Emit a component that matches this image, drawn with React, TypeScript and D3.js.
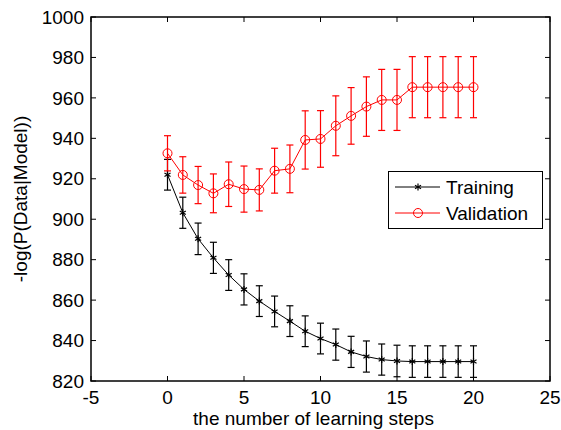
import React, { useRef, useEffect } from "react";
import * as d3 from "d3";

// learning steps 0..20
const steps = [0, 1, 2, 3, 4, 5, 6, 7, 8, 9, 10, 11, 12, 13, 14, 15, 16, 17, 18, 19, 20];
const trainMean = [922, 903.2, 890.3, 880.9, 872.4, 865.3, 859.5, 854.4, 849.6, 844.6, 841, 838, 834.4, 832.1, 830.6, 829.9, 829.6, 829.6, 829.6, 829.6, 829.6];
const trainErr = [7.6, 7.7, 7.8, 7.7, 7.6, 7.7, 7.6, 7.6, 7.6, 7.6, 7.6, 7.7, 7.7, 7.7, 7.7, 7.8, 7.8, 7.8, 7.8, 7.8, 7.8];
const validMean = [932.6, 921.9, 916.9, 912.8, 917.3, 914.9, 914.5, 924, 924.9, 939.2, 939.7, 946.2, 951.1, 955.7, 959, 959, 965.3, 965.3, 965.3, 965.3, 965.3];
const validErr = [8.7, 9, 9.2, 9.6, 11, 11.4, 10.4, 11.1, 11.8, 14.4, 14, 14.8, 14, 14.7, 15.1, 15.1, 15.1, 15.1, 15.1, 15.1, 15.1];
const xTicks = [-5, 0, 5, 10, 15, 20, 25];
const yTicks = [820, 840, 860, 880, 900, 920, 940, 960, 980, 1000];

const W = 561;
const H = 430;
const margin = { left: 91, right: 11, top: 17, bottom: 49 };
const font = "Liberation Sans, Arial, sans-serif";
const fs = 19;

function App() {
  const svgRef = useRef<SVGSVGElement>(null);

  useEffect(() => {
    const svg = d3.select(svgRef.current);
    svg.selectAll("*").remove();

    const x = d3.scaleLinear().domain([-5, 25]).range([margin.left, W - margin.right]);
    const y = d3.scaleLinear().domain([820, 1000]).range([H - margin.bottom, margin.top]);
    const x0 = x.range()[0], x1 = x.range()[1];
    const y0 = y.range()[0], y1 = y.range()[1];

    // axes (ticks inward, box)
    const tick = 5;
    const g = svg.append("g").attr("font-family", font).attr("font-size", fs);

    g.append("rect")
      .attr("x", x0).attr("y", y1).attr("width", x1 - x0).attr("height", y0 - y1)
      .attr("fill", "none").attr("stroke", "black").attr("stroke-width", 1.5);

    xTicks.forEach((t) => {
      g.append("line").attr("x1", x(t)).attr("x2", x(t)).attr("y1", y0).attr("y2", y0 - tick).attr("stroke", "black");
      g.append("line").attr("x1", x(t)).attr("x2", x(t)).attr("y1", y1).attr("y2", y1 + tick).attr("stroke", "black");
      g.append("text").attr("x", x(t)).attr("y", y0 + 23).attr("text-anchor", "middle").text(t);
    });
    yTicks.forEach((t) => {
      g.append("line").attr("x1", x0).attr("x2", x0 + tick).attr("y1", y(t)).attr("y2", y(t)).attr("stroke", "black");
      g.append("line").attr("x1", x1).attr("x2", x1 - tick).attr("y1", y(t)).attr("y2", y(t)).attr("stroke", "black");
      g.append("text").attr("x", x0 - 7).attr("y", y(t)).attr("dy", "0.35em").attr("text-anchor", "end").text(t);
    });

    g.append("text")
      .attr("x", (x0 + x1) / 2 - 7).attr("y", H - 5)
      .attr("text-anchor", "middle").text("the number of learning steps");
    g.append("text")
      .attr("transform", `translate(27, ${(y0 + y1) / 2}) rotate(-90)`)
      .attr("text-anchor", "middle").text("-log(P(Data|Model))");

    const series = [
      { mean: trainMean, err: trainErr, color: "black", marker: "star" },
      { mean: validMean, err: validErr, color: "#ff0000", marker: "circle" },
    ];

    const cap = 3.5;
    series.forEach((s) => {
      const sg = svg.append("g");
      // error bars
      steps.forEach((st, i) => {
        const xp = x(st);
        const top = y(s.mean[i] + s.err[i]);
        const bot = y(s.mean[i] - s.err[i]);
        sg.append("line").attr("x1", xp).attr("x2", xp).attr("y1", top).attr("y2", bot).attr("stroke", s.color).attr("stroke-width", 1.2);
        sg.append("line").attr("x1", xp - cap).attr("x2", xp + cap).attr("y1", top).attr("y2", top).attr("stroke", s.color).attr("stroke-width", 1.2);
        sg.append("line").attr("x1", xp - cap).attr("x2", xp + cap).attr("y1", bot).attr("y2", bot).attr("stroke", s.color).attr("stroke-width", 1.2);
      });
      const ln = d3.line<number>().x((_, i) => x(steps[i])).y((d) => y(d));
      sg.append("path").attr("d", ln(s.mean)).attr("fill", "none").attr("stroke", s.color).attr("stroke-width", 1);
      steps.forEach((st, i) => {
        drawMarker(sg, s.marker, x(st), y(s.mean[i]), s.color);
      });
    });

    // legend
    const lg = svg.append("g").attr("font-family", font).attr("font-size", fs);
    lg.append("rect").attr("x", 388.5).attr("y", 171.5).attr("width", 154).attr("height", 57)
      .attr("fill", "white").attr("stroke", "black").attr("stroke-width", 1);
    const entries = [
      { label: "Training", color: "black", marker: "star", cy: 187 },
      { label: "Validation", color: "#ff0000", marker: "circle", cy: 213 },
    ];
    entries.forEach((e) => {
      lg.append("line").attr("x1", 395).attr("x2", 440).attr("y1", e.cy).attr("y2", e.cy).attr("stroke", e.color);
      drawMarker(lg, e.marker, 418, e.cy, e.color);
      lg.append("text").attr("x", 446).attr("y", e.cy).attr("dy", "0.35em").text(e.label);
    });
  }, []);

  return (
    <svg ref={svgRef} width={W} height={H} style={{ position: "absolute", left: 0, top: 0, background: "white" }} />
  );
}

function drawMarker(g: any, kind: string, cx: number, cy: number, color: string) {
  if (kind === "circle") {
    g.append("circle").attr("cx", cx).attr("cy", cy).attr("r", 4.5).attr("fill", "none").attr("stroke", color).attr("stroke-width", 1);
  } else {
    const r = 3.5;
    [0, 60, 120].forEach((a) => {
      const rad = (a * Math.PI) / 180;
      g.append("line")
        .attr("x1", cx - r * Math.sin(rad)).attr("y1", cy - r * Math.cos(rad))
        .attr("x2", cx + r * Math.sin(rad)).attr("y2", cy + r * Math.cos(rad))
        .attr("stroke", color).attr("stroke-width", 1.2);
    });
  }
}

export default App;
